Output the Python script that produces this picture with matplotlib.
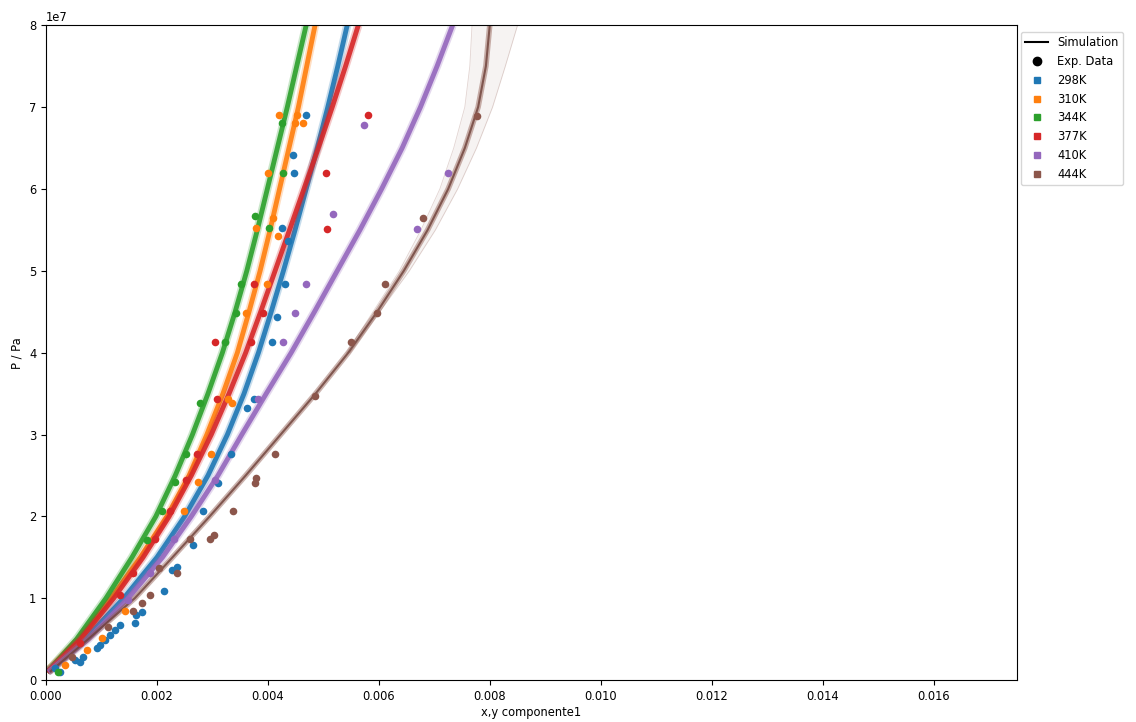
import numpy as np
import matplotlib.pyplot as plt
from matplotlib.lines import Line2D

plt.rcParams['font.size'] = 8.3

# x values in units of 1e-3, pressures in units of 1e7 Pa
temps = ['298K', '310K', '344K', '377K', '410K', '444K']
colors = ['tab:blue', 'tab:orange', 'tab:green', 'tab:red', 'tab:purple', 'tab:brown']

# simulation curves
sim_p = [0.1, 0.5, 1, 1.5, 2, 2.5, 3, 3.5, 4, 4.5, 5, 5.5, 6, 6.5, 7, 7.5, 8]
sim_x_298 = [0.02, 0.70, 1.40, 2.00, 2.50, 2.92, 3.27, 3.57, 3.83, 4.06, 4.28, 4.49, 4.69, 4.89, 5.08, 5.26, 5.43]
sim_x_310 = [0.02, 0.60, 1.17, 1.70, 2.18, 2.58, 2.90, 3.19, 3.45, 3.66, 3.86, 4.04, 4.21, 4.38, 4.55, 4.70, 4.85]
sim_x_344 = [0.02, 0.55, 1.08, 1.55, 1.98, 2.33, 2.64, 2.92, 3.18, 3.41, 3.62, 3.81, 3.99, 4.17, 4.35, 4.52, 4.69]
sim_x_377 = [0.02, 0.62, 1.22, 1.75, 2.22, 2.62, 2.98, 3.30, 3.60, 3.87, 4.13, 4.39, 4.65, 4.91, 5.16, 5.40, 5.63]
sim_x_410 = [0.04, 0.76, 1.48, 2.10, 2.62, 3.10, 3.53, 3.97, 4.42, 4.84, 5.25, 5.66, 6.05, 6.42, 6.75, 7.05, 7.33]
sim_x_444 = [0.07, 0.76, 1.60, 2.28, 2.95, 3.60, 4.23, 4.86, 5.45, 5.97, 6.45, 6.88, 7.25, 7.55, 7.79, 7.93, 8.00]

# spread of the 444K simulation bundle
band_p_444 = [4, 5, 5.5, 6, 6.5, 7, 7.5, 8]
band_lo_444 = [5.42, 6.37, 6.76, 7.10, 7.35, 7.55, 7.64, 7.68]
band_hi_444 = [5.48, 6.55, 7.02, 7.42, 7.76, 8.05, 8.28, 8.50]

# experimental data
exp_x_298 = [4.685, 4.450, 4.468, 4.252, 4.360, 4.306, 4.162, 4.072, 3.748, 3.622, 3.333, 3.099,
             2.829, 2.649, 2.360, 2.270, 2.126, 1.730, 1.622, 1.604, 1.333, 1.243, 1.153, 1.063,
             0.973, 0.919, 0.667, 0.613, 0.523, 0.252, 0.162]
exp_p_298 = [6.90, 6.41, 6.20, 5.52, 5.37, 4.84, 4.43, 4.13, 3.44, 3.32, 2.76, 2.41,
             2.06, 1.65, 1.38, 1.34, 1.09, 0.83, 0.79, 0.70, 0.67, 0.61, 0.55, 0.49,
             0.43, 0.39, 0.28, 0.22, 0.24, 0.10, 0.15]
exp_x_310 = [4.198, 4.523, 4.486, 4.631, 4.000, 4.090, 3.784, 4.180, 3.982, 3.604, 3.279, 3.351,
             2.973, 2.739, 2.486, 1.423, 1.009, 0.739, 0.342]
exp_p_310 = [6.90, 6.90, 6.80, 6.81, 6.20, 5.65, 5.52, 5.43, 4.84, 4.49, 3.44, 3.38,
             2.76, 2.42, 2.06, 0.85, 0.51, 0.37, 0.18]
exp_x_344 = [4.252, 4.270, 3.766, 4.018, 3.514, 3.423, 3.225, 2.775, 2.523, 2.324, 2.090, 1.820, 0.216]
exp_p_344 = [6.80, 6.20, 5.67, 5.52, 4.84, 4.49, 4.13, 3.38, 2.76, 2.42, 2.06, 1.71, 0.10]
exp_x_377 = [5.802, 5.045, 5.063, 3.748, 3.910, 3.045, 3.694, 3.081, 2.721, 2.523, 2.234, 1.964,
             1.568, 1.333, 0.613]
exp_p_377 = [6.90, 6.20, 5.51, 4.84, 4.49, 4.13, 4.13, 3.44, 2.76, 2.44, 2.06, 1.73,
             1.31, 1.04, 0.45]
exp_x_410 = [5.730, 7.243, 5.171, 6.685, 4.685, 4.486, 4.270, 3.820, 3.045, 2.306, 1.874, 1.477]
exp_p_410 = [6.78, 6.20, 5.70, 5.51, 4.84, 4.49, 4.13, 3.44, 2.44, 1.73, 1.31, 0.98]
exp_x_444 = [7.766, 6.793, 6.108, 5.964, 5.495, 4.847, 4.126, 3.784, 3.766, 3.369, 3.027, 2.955,
             2.595, 2.360, 2.036, 1.874, 1.730, 1.568, 1.117, 0.468]
exp_p_444 = [6.89, 5.65, 4.84, 4.49, 4.13, 3.47, 2.76, 2.47, 2.41, 2.06, 1.77, 1.73,
             1.72, 1.31, 1.37, 1.04, 0.94, 0.85, 0.65, 0.28]

sim_x = [sim_x_298, sim_x_310, sim_x_344, sim_x_377, sim_x_410]
exp_x = [exp_x_298, exp_x_310, exp_x_344, exp_x_377, exp_x_410, exp_x_444]
exp_p = [exp_p_298, exp_p_310, exp_p_344, exp_p_377, exp_p_410, exp_p_444]


def main():
    fig = plt.figure(figsize=(11.36, 7.22), dpi=100)
    ax = fig.add_axes([0.0405, 0.058, 0.8545, 0.907])

    p_sim = np.array(sim_p) * 1e7
    for xs, c in zip(sim_x, colors[:5]):
        xs = np.array(xs) * 1e-3
        ax.plot(xs, p_sim, color=c, lw=6, alpha=0.25, solid_capstyle='butt', solid_joinstyle='round')
        ax.plot(xs, p_sim, color=c, lw=3.5, alpha=0.9, solid_capstyle='butt', solid_joinstyle='round')

    # 444K bundle: faint spread plus darker centre
    bp = np.array(band_p_444) * 1e7
    ax.fill_betweenx(bp, np.array(band_lo_444) * 1e-3, np.array(band_hi_444) * 1e-3,
                     color='tab:brown', alpha=0.07, lw=0)
    for edge in (band_lo_444, band_hi_444):
        ax.plot(np.array(edge) * 1e-3, bp, color='tab:brown', lw=0.6, alpha=0.25)
    x444 = np.array(sim_x_444) * 1e-3
    ax.plot(x444, p_sim, color='tab:brown', lw=4, alpha=0.45, solid_capstyle='butt')
    ax.plot(x444, p_sim, color='#6e4038', lw=1.5, alpha=0.8, solid_capstyle='butt')

    for xs, ps, c in zip(exp_x, exp_p, colors):
        ax.scatter(np.array(xs) * 1e-3, np.array(ps) * 1e7, color=c, s=30, zorder=3, linewidths=0)

    ax.set_xlim(0, 0.0175)
    ax.set_ylim(0, 8e7)
    ax.set_xticks(np.arange(0, 0.0161, 0.002))
    ax.set_xlabel('x,y componente1', labelpad=2)
    ax.set_ylabel('P / Pa', labelpad=4)

    handles = [Line2D([], [], color='black', lw=1.5, label='Simulation'),
               Line2D([], [], color='black', marker='o', ls='none', markersize=6, label='Exp. Data')]
    for t, c in zip(temps, colors):
        handles.append(Line2D([], [], color=c, marker='s', ls='none', markersize=5, label=t))
    ax.legend(handles=handles, loc='upper left', bbox_to_anchor=(1.004, 0.99),
              borderaxespad=0.0, labelspacing=0.5, handlelength=2.0)

    fig.savefig('out.png', dpi=100)
    plt.close(fig)


if __name__ == "__main__":
    main()
